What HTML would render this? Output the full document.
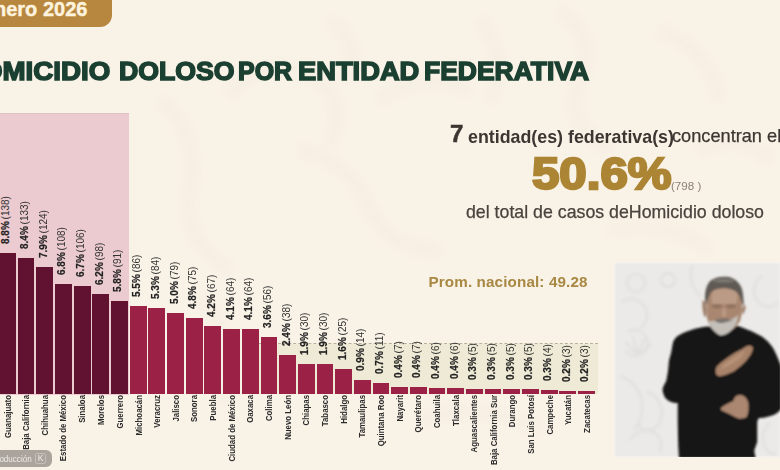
<!DOCTYPE html>
<html><head><meta charset="utf-8">
<style>
html,body{margin:0;padding:0}
body{width:780px;height:470px;overflow:hidden;position:relative;background:#f9f2e7;font-family:"Liberation Sans",sans-serif}
.abs{position:absolute}
.badge{position:absolute;left:-20px;top:-10px;width:132px;height:37.4px;background:#b8873f;border-radius:0 0 12px 0}
.badge span{position:absolute;left:0;top:10px;font-weight:bold;font-size:20px;color:#fdf3de;-webkit-text-stroke:0.4px #fdf3de;white-space:nowrap;line-height:22px}
.tw{position:absolute;top:56px;transform-origin:0 0;font-weight:bold;font-size:26px;line-height:30px;color:#1b4032;white-space:nowrap;-webkit-text-stroke:1.5px #1b4032}
.pink{position:absolute;left:0;top:113px;width:129px;height:281.4px;background:#ebcbcf;border-top:1px solid #dfc0c4}
.beige{position:absolute;left:258px;top:344px;width:339.5px;height:50.4px;background:#eeead5}
.dash{position:absolute;left:258px;top:343px;width:339.5px;height:0;border-top:1.3px dashed #b8b09a}
.bar{position:absolute}
.vl{position:absolute;width:0;height:0}
.vl span{position:absolute;left:0;top:0;transform-origin:0 0;transform:translate(-1.5px,0) rotate(-90deg) translate(0,-50%);font-size:10px;line-height:11px;color:#333;white-space:nowrap;word-spacing:-1px}
.vl b{color:#222;-webkit-text-stroke:0.2px #222}
.xl{position:absolute;width:0;height:0}
.xl span{position:absolute;right:0;top:0;transform-origin:100% 0;transform:rotate(-90deg) translate(0,-50%) scaleX(0.87);font-size:9px;line-height:10px;font-weight:bold;color:#2b2b2b;white-space:nowrap}
.r1{position:absolute;white-space:nowrap;color:#3b3631}
.video{position:absolute;left:614.5px;top:262.5px;width:166px;height:194.5px;background:#ebeae8;overflow:hidden}
.ovl{position:absolute;left:-10px;top:449.5px;width:61.5px;height:17.5px;background:#aaa49d;border-radius:6px}
#wrap{position:absolute;left:0;top:0;width:780px;height:470px;overflow:hidden;filter:blur(0.3px)}
</style></head><body><div id="wrap">
<svg class="abs" style="left:0;top:0" width="780" height="470" viewBox="0 0 780 470">
<defs><filter id="bgb" x="-20%" y="-20%" width="140%" height="140%"><feGaussianBlur stdDeviation="4"/></filter></defs>
<g fill="none" stroke="#f1e8dc" stroke-width="10" opacity="0.35" filter="url(#bgb)">
<path d="M160 100 q40 30 30 90 q-10 50 40 80"/>
<path d="M230 95 q30 -40 80 -20 q40 20 20 70"/>
<path d="M300 150 q50 10 70 60 q20 40 70 40"/>
<path d="M380 100 q40 -30 90 -10"/>
<path d="M330 20 q30 20 20 60"/>
<path d="M480 20 q30 40 10 80"/>
<path d="M560 10 q40 30 20 70 q-20 40 30 70"/>
<path d="M660 30 q50 20 60 70"/>
<path d="M700 150 q40 -20 70 10"/>
<path d="M200 300 q40 40 20 100"/>
<path d="M420 420 q60 -20 120 10"/>
<path d="M610 230 q60 -10 100 20"/>
</g>
</svg>
<div class="badge"><span style="left:14px;top:8px">nero 2026</span></div>
<div class="tw" style="left:-38.9px;transform:scaleX(1.0646)">HOMICIDIO</div>
<div class="tw" style="left:119px;transform:scaleX(1.025)">DOLOSO</div>
<div class="tw" style="left:238px;transform:scaleX(0.96)">POR</div>
<div class="tw" style="left:298.3px;transform:scaleX(1.05)">ENTIDAD</div>
<div class="tw" style="left:423.8px;transform:scaleX(1.018)">FEDERATIVA</div>
<div class="pink"></div>
<div class="beige"></div>
<div class="dash"></div>
<div class="bar" style="left:-1.00px;top:252.95px;width:16.8px;height:141.45px;background:#611230"></div>
<div class="vl" style="left:7.40px;top:243.95px"><span><b>8.8%</b> (138)</span></div>
<div class="xl" style="left:7.40px;top:395.40px"><span>Guanajuato</span></div>
<div class="bar" style="left:17.68px;top:258.07px;width:16.8px;height:136.32px;background:#611230"></div>
<div class="vl" style="left:26.08px;top:249.07px"><span><b>8.4%</b> (133)</span></div>
<div class="xl" style="left:26.08px;top:395.40px"><span>Baja California</span></div>
<div class="bar" style="left:36.36px;top:267.30px;width:16.8px;height:127.10px;background:#611230"></div>
<div class="vl" style="left:44.76px;top:258.30px"><span><b>7.9%</b> (124)</span></div>
<div class="xl" style="left:44.76px;top:395.40px"><span>Chihuahua</span></div>
<div class="bar" style="left:55.04px;top:283.70px;width:16.8px;height:110.70px;background:#611230"></div>
<div class="vl" style="left:63.44px;top:274.70px"><span><b>6.8%</b> (108)</span></div>
<div class="xl" style="left:63.44px;top:395.40px"><span>Estado de México</span></div>
<div class="bar" style="left:73.72px;top:285.75px;width:16.8px;height:108.65px;background:#611230"></div>
<div class="vl" style="left:82.12px;top:276.75px"><span><b>6.7%</b> (106)</span></div>
<div class="xl" style="left:82.12px;top:395.40px"><span>Sinaloa</span></div>
<div class="bar" style="left:92.40px;top:293.95px;width:16.8px;height:100.45px;background:#611230"></div>
<div class="vl" style="left:100.80px;top:284.95px"><span><b>6.2%</b> (98)</span></div>
<div class="xl" style="left:100.80px;top:395.40px"><span>Morelos</span></div>
<div class="bar" style="left:111.08px;top:301.12px;width:16.8px;height:93.27px;background:#611230"></div>
<div class="vl" style="left:119.48px;top:292.12px"><span><b>5.8%</b> (91)</span></div>
<div class="xl" style="left:119.48px;top:395.40px"><span>Guerrero</span></div>
<div class="bar" style="left:129.76px;top:306.25px;width:16.8px;height:88.15px;background:#9c2146"></div>
<div class="vl" style="left:138.16px;top:297.25px"><span><b>5.5%</b> (86)</span></div>
<div class="xl" style="left:138.16px;top:395.40px"><span>Michoacán</span></div>
<div class="bar" style="left:148.44px;top:308.30px;width:16.8px;height:86.10px;background:#9c2146"></div>
<div class="vl" style="left:156.84px;top:299.30px"><span><b>5.3%</b> (84)</span></div>
<div class="xl" style="left:156.84px;top:395.40px"><span>Veracruz</span></div>
<div class="bar" style="left:167.12px;top:313.42px;width:16.8px;height:80.97px;background:#9c2146"></div>
<div class="vl" style="left:175.52px;top:304.42px"><span><b>5.0%</b> (79)</span></div>
<div class="xl" style="left:175.52px;top:395.40px"><span>Jalisco</span></div>
<div class="bar" style="left:185.80px;top:317.52px;width:16.8px;height:76.88px;background:#9c2146"></div>
<div class="vl" style="left:194.20px;top:308.52px"><span><b>4.8%</b> (75)</span></div>
<div class="xl" style="left:194.20px;top:395.40px"><span>Sonora</span></div>
<div class="bar" style="left:204.48px;top:325.72px;width:16.8px;height:68.67px;background:#9c2146"></div>
<div class="vl" style="left:212.88px;top:316.72px"><span><b>4.2%</b> (67)</span></div>
<div class="xl" style="left:212.88px;top:395.40px"><span>Puebla</span></div>
<div class="bar" style="left:223.16px;top:328.80px;width:16.8px;height:65.60px;background:#9c2146"></div>
<div class="vl" style="left:231.56px;top:319.80px"><span><b>4.1%</b> (64)</span></div>
<div class="xl" style="left:231.56px;top:395.40px"><span>Ciudad de México</span></div>
<div class="bar" style="left:241.84px;top:328.80px;width:16.8px;height:65.60px;background:#9c2146"></div>
<div class="vl" style="left:250.24px;top:319.80px"><span><b>4.1%</b> (64)</span></div>
<div class="xl" style="left:250.24px;top:395.40px"><span>Oaxaca</span></div>
<div class="bar" style="left:260.52px;top:337.00px;width:16.8px;height:57.40px;background:#9c2146"></div>
<div class="vl" style="left:268.92px;top:328.00px"><span><b>3.6%</b> (56)</span></div>
<div class="xl" style="left:268.92px;top:395.40px"><span>Colima</span></div>
<div class="bar" style="left:279.20px;top:355.45px;width:16.8px;height:38.95px;background:#9c2146"></div>
<div class="vl" style="left:287.60px;top:346.45px"><span><b>2.4%</b> (38)</span></div>
<div class="xl" style="left:287.60px;top:395.40px"><span>Nuevo León</span></div>
<div class="bar" style="left:297.88px;top:363.65px;width:16.8px;height:30.75px;background:#9c2146"></div>
<div class="vl" style="left:306.28px;top:354.65px"><span><b>1.9%</b> (30)</span></div>
<div class="xl" style="left:306.28px;top:395.40px"><span>Chiapas</span></div>
<div class="bar" style="left:316.56px;top:363.65px;width:16.8px;height:30.75px;background:#9c2146"></div>
<div class="vl" style="left:324.96px;top:354.65px"><span><b>1.9%</b> (30)</span></div>
<div class="xl" style="left:324.96px;top:395.40px"><span>Tabasco</span></div>
<div class="bar" style="left:335.24px;top:368.77px;width:16.8px;height:25.62px;background:#9c2146"></div>
<div class="vl" style="left:343.64px;top:359.77px"><span><b>1.6%</b> (25)</span></div>
<div class="xl" style="left:343.64px;top:395.40px"><span>Hidalgo</span></div>
<div class="bar" style="left:353.92px;top:380.05px;width:16.8px;height:14.35px;background:#9c2146"></div>
<div class="vl" style="left:362.32px;top:371.05px"><span><b>0.9%</b> (14)</span></div>
<div class="xl" style="left:362.32px;top:395.40px"><span>Tamaulipas</span></div>
<div class="bar" style="left:372.60px;top:383.12px;width:16.8px;height:11.27px;background:#9c2146"></div>
<div class="vl" style="left:381.00px;top:374.12px"><span><b>0.7%</b> (11)</span></div>
<div class="xl" style="left:381.00px;top:395.40px"><span>Quintana Roo</span></div>
<div class="bar" style="left:391.28px;top:387.22px;width:16.8px;height:7.17px;background:#9c2146"></div>
<div class="vl" style="left:399.68px;top:378.22px"><span><b>0.4%</b> (7)</span></div>
<div class="xl" style="left:399.68px;top:395.40px"><span>Nayarit</span></div>
<div class="bar" style="left:409.96px;top:387.22px;width:16.8px;height:7.17px;background:#9c2146"></div>
<div class="vl" style="left:418.36px;top:378.22px"><span><b>0.4%</b> (7)</span></div>
<div class="xl" style="left:418.36px;top:395.40px"><span>Querétaro</span></div>
<div class="bar" style="left:428.64px;top:388.25px;width:16.8px;height:6.15px;background:#9c2146"></div>
<div class="vl" style="left:437.04px;top:379.25px"><span><b>0.4%</b> (6)</span></div>
<div class="xl" style="left:437.04px;top:395.40px"><span>Coahuila</span></div>
<div class="bar" style="left:447.32px;top:388.25px;width:16.8px;height:6.15px;background:#9c2146"></div>
<div class="vl" style="left:455.72px;top:379.25px"><span><b>0.4%</b> (6)</span></div>
<div class="xl" style="left:455.72px;top:395.40px"><span>Tlaxcala</span></div>
<div class="bar" style="left:466.00px;top:389.27px;width:16.8px;height:5.12px;background:#9c2146"></div>
<div class="vl" style="left:474.40px;top:380.27px"><span><b>0.3%</b> (5)</span></div>
<div class="xl" style="left:474.40px;top:395.40px"><span>Aguascalientes</span></div>
<div class="bar" style="left:484.68px;top:389.27px;width:16.8px;height:5.12px;background:#9c2146"></div>
<div class="vl" style="left:493.08px;top:380.27px"><span><b>0.3%</b> (5)</span></div>
<div class="xl" style="left:493.08px;top:395.40px"><span>Baja California Sur</span></div>
<div class="bar" style="left:503.36px;top:389.27px;width:16.8px;height:5.12px;background:#9c2146"></div>
<div class="vl" style="left:511.76px;top:380.27px"><span><b>0.3%</b> (5)</span></div>
<div class="xl" style="left:511.76px;top:395.40px"><span>Durango</span></div>
<div class="bar" style="left:522.04px;top:389.27px;width:16.8px;height:5.12px;background:#9c2146"></div>
<div class="vl" style="left:530.44px;top:380.27px"><span><b>0.3%</b> (5)</span></div>
<div class="xl" style="left:530.44px;top:395.40px"><span>San Luis Potosí</span></div>
<div class="bar" style="left:540.72px;top:390.30px;width:16.8px;height:4.10px;background:#9c2146"></div>
<div class="vl" style="left:549.12px;top:381.30px"><span><b>0.3%</b> (4)</span></div>
<div class="xl" style="left:549.12px;top:395.40px"><span>Campeche</span></div>
<div class="bar" style="left:559.40px;top:391.32px;width:16.8px;height:3.07px;background:#9c2146"></div>
<div class="vl" style="left:567.80px;top:382.32px"><span><b>0.2%</b> (3)</span></div>
<div class="xl" style="left:567.80px;top:395.40px"><span>Yucatán</span></div>
<div class="bar" style="left:578.08px;top:391.32px;width:16.8px;height:3.07px;background:#9c2146"></div>
<div class="vl" style="left:586.48px;top:382.32px"><span><b>0.2%</b> (3)</span></div>
<div class="xl" style="left:586.48px;top:395.40px"><span>Zacatecas</span></div>
<div class="r1" style="left:450px;top:120px;font-weight:bold;font-size:24px;line-height:27px;-webkit-text-stroke:0.5px #3b3631">7</div>
<div class="r1" style="left:468px;top:126px;font-weight:bold;font-size:18.5px;line-height:21px;transform-origin:0 0;transform:scaleX(0.963)">entidad(es) federativa(s)</div>
<div class="r1" style="left:672px;top:125.5px;font-size:18.2px;line-height:21px;-webkit-text-stroke:0.25px #3b3631">concentran el</div>
<div class="r1" style="left:531.5px;top:148.5px;font-weight:bold;font-size:44px;line-height:49px;color:#ac8534;transform-origin:0 0;transform:scaleX(1.118);-webkit-text-stroke:2.4px #ac8534">50.6%</div>
<div class="r1" style="left:671px;top:178.5px;font-size:11.6px;line-height:13px;color:#8c8170">(798 )</div>
<div class="r1" style="left:466px;top:202px;font-size:17.75px;line-height:20px;color:#48433d;-webkit-text-stroke:0.25px #48433d">del total de casos deHomicidio doloso</div>
<div class="r1" style="left:428.5px;top:273.5px;font-weight:bold;font-size:15.2px;letter-spacing:0.14px;line-height:16px;color:#a88843">Prom. nacional: 49.28</div>
<div class="video"></div>
<svg class="abs" style="left:0;top:0" width="780" height="470" viewBox="0 0 780 470">
<defs>
<clipPath id="vc"><rect x="614.5" y="262.5" width="166" height="194.5"/></clipPath>
<filter id="bl" x="-10%" y="-10%" width="120%" height="120%"><feGaussianBlur stdDeviation="0.8"/></filter>
<filter id="bl2"><feGaussianBlur stdDeviation="1.5"/></filter>
<filter id="bl3" x="-50%" y="-50%" width="200%" height="200%"><feGaussianBlur stdDeviation="2"/></filter>
</defs>
<g clip-path="url(#vc)">
<g fill="none" stroke="#dedcd9" stroke-width="2" opacity="0.8" filter="url(#bl2)">
<circle cx="636" cy="283" r="9"/>
<circle cx="668" cy="280" r="7"/>
<path d="M622 302 q12 -8 22 4 q8 12 -4 22"/>
<path d="M692 266 q-4 18 8 30"/>
<path d="M628 332 q10 -6 18 4 q6 10 -4 18 q-10 6 -16 -4"/>
<path d="M637 354 l-12 -12 M637 354 l-4 -18 M637 354 l8 -16 M637 354 l14 -9"/>
<path d="M620 376 q18 6 22 26 q2 16 -8 28"/>
<path d="M646 392 q14 4 16 20 q0 14 -12 18 q-10 2 -12 -8"/>
<path d="M630 440 q10 -14 24 -8 q10 6 6 20"/>
<path d="M762 276 q-14 12 -4 26 q12 10 20 0"/>
<path d="M770 422 q-10 10 -6 24 q6 10 12 8"/>
<path d="M700 430 q-10 10 -6 26"/>
</g>
<rect x="615" y="263" width="165" height="193.5" fill="none" stroke="#f4f2f0" stroke-width="1.2" opacity="0.8"/>
<g filter="url(#bl)">
<path fill="#161616" d="M707 326.4 L738 326 C744 328 747 329.5 750 330.6 C754 332.5 758 334.5 761.8 336.6 C765 339 767.5 341 769.3 343.3 C772 346 774 349.5 775.2 352.3 C777 356 778.5 359.5 779.7 362.7 L781 366 L781 409 C779 412 776 414 773.6 415 C768 417 763 418 758.7 418.3 C757.5 420 757.2 422 757.2 424.3 L757.2 442 C756 446 754.5 449 754.3 451 C754.5 454 755.5 456 755.7 458 L679 458 C678.5 450 678 442 678 436 L677.7 420 L677.7 403 C674 403 671 402 669 400.9 C666 399 664 397 663.8 394.5 C662.5 392 662.5 390 662.8 388 C664 385 665 383 666 381.7 C667 378 667.5 374 668 371 C668.5 367 668.7 363 669 360.4 C670 357 670.8 354 671.3 352 C672 348 672.5 344 673.4 341.3 C674.5 339 676 337 677.7 336 C683 333 688 331 692.6 329.6 C697 328 702 327 707 326.4 Z"/>
<path fill="#a8866f" d="M709 290 C715 286 732 286 740 290 C743 300 743 312 740 321 C736 329 728 333 721 333 C713 332 709 327 707 318 C706 308 707 298 709 290 Z"/>
<path fill="#c2a28c" d="M713 291 C720 288 731 288 737 292 C738 298 737 303 735 305 C728 304 719 304 713 305 C711 300 711 295 713 291 Z" opacity="0.75"/>
<path fill="#5f5a55" d="M706 306 C704 296 705 287 710 281 C715 277 721 276 729 277 C737 279 742 285 743 294 L744 306 C742 304 741 300 740 297 C738 292 734 289 725 288 C717 288 712 290 710 294 C708 298 707 302 706 306 Z"/>
<path fill="#8a857f" d="M712 281 C718 278 728 278 735 281 C731 283 720 283 712 281 Z" opacity="0.7"/>
<path fill="#9c7b68" d="M702.5 300.5 C705 300 706.5 304 706.5 311 C706.5 315 706 317.5 704.5 317 C702.5 312 702 305 702.5 300.5 Z"/>
<path fill="#9c7b68" d="M744.5 305 C746.5 306 745.5 311 742.7 314.7 C742 311 742 307 744.5 305 Z"/>
<path fill="#c4bfb9" d="M708 321 C710 327 714 332 720.3 335.6 C727 335 732 331 736 324 C737.5 320 738 317 738 314.7 C735 318 731 320 726 320 C720 319 714 322 708 321 Z"/>
<path fill="#4a3f3a" d="M715 321 C719 318 726 318 730 320 C727 323 719 324 715 321 Z"/>
<ellipse cx="717" cy="306" rx="5" ry="2.2" fill="#7d604f" opacity="0.55"/>
<ellipse cx="731" cy="306" rx="5" ry="2.2" fill="#7d604f" opacity="0.55"/>
<ellipse cx="724" cy="313" rx="2.5" ry="5" fill="#c4a48d" opacity="0.6"/>
<path fill="#8a857f" d="M714 320 C718 318.5 728 318.5 733 320 C731 323 717 323 714 320 Z" opacity="0.8"/>
<path fill="#a88269" d="M716.5 367 C721 362 726 359 730 356 C734 353 738 351 741.4 349.4 C744 348 746.5 346 749 345.5 C751.5 345.5 753 347 752.9 348.4 C752.5 351 751.5 352.5 751 354 C749 357 747 359.5 745.2 361.8 C741 366 737 369 733.7 371.4 C729 373.5 724 375.5 720.3 376.2 C717.5 376.2 716 375 715.8 373 C715.5 371 715.8 369 716.5 367 Z"/>
<path fill="#bf9c80" opacity="0.6" d="M722 366 C728 361 736 356 744 351 C745 353 742 357 738 360 C733 364 727 367 722 369 Z"/>
<path fill="#ab866f" d="M721 408 C724 405 729 403 733.4 401 C734 398 736 395 740 395 C744 395 747 398 748.3 403 C749 409 748 414 746.8 416.8 C743 419 739 419 737.9 418.3 C733 416 728 413 723 411 C721 410.5 720.5 409 721 408 Z"/>
</g>
</g>
</svg>
<div class="ovl"><span style="position:absolute;right:19.5px;top:2px;font-size:9.4px;line-height:13px;color:#eeeae6;white-space:nowrap;transform-origin:100% 50%;transform:scaleX(0.86)">roducción</span><span style="position:absolute;left:45.4px;top:3.5px;width:10.4px;height:10.5px;border:1px solid #c4beb8;border-radius:2px;box-sizing:border-box;font-size:8.5px;line-height:9px;text-align:center;color:#f0ece8">K</span></div>
</div></body></html>
